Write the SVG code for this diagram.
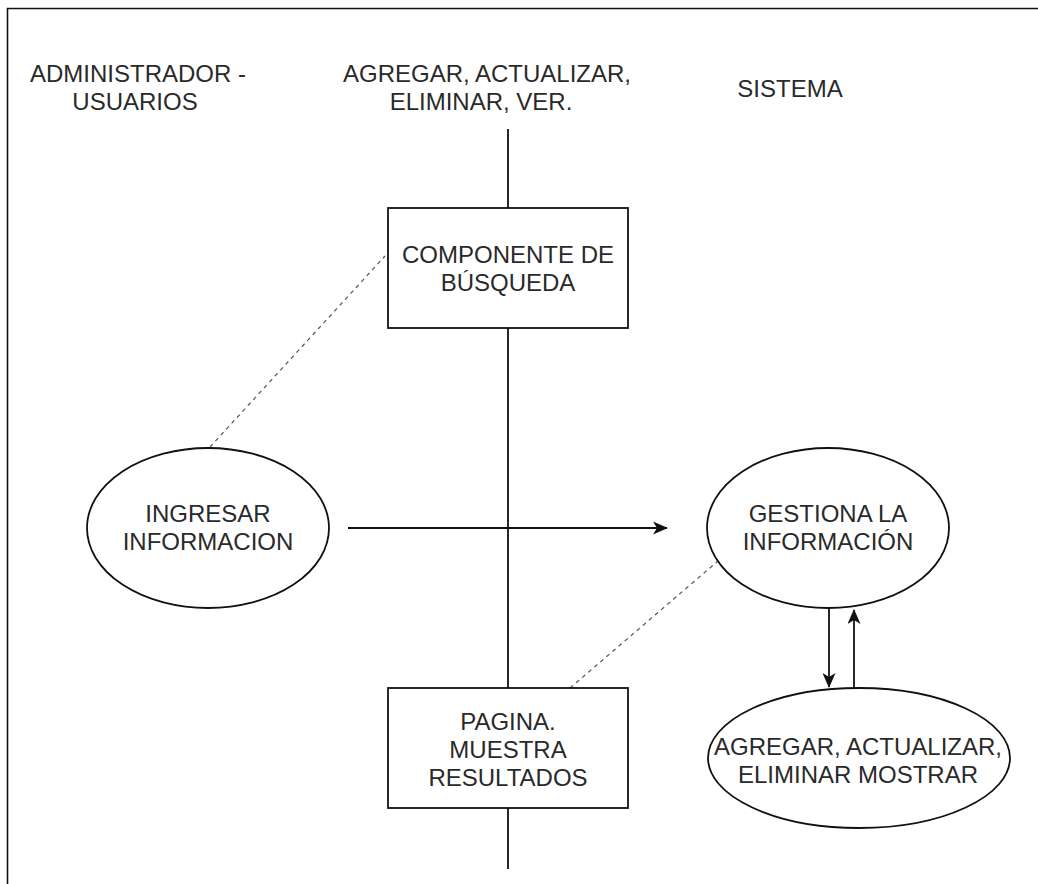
<svg xmlns="http://www.w3.org/2000/svg" width="1038" height="884" viewBox="0 0 1038 884">
  <defs>
    <style>
      .lbl { font-family: "Liberation Sans", Arial, sans-serif; font-size: 24px; fill: #2a2a2a; text-anchor: middle; }
      .shape { fill: #fff; stroke: #111; stroke-width: 1.8; }
      .line { fill: none; stroke: #111; stroke-width: 1.8; }
      .dash { fill: none; stroke: #555; stroke-width: 1.2; stroke-dasharray: 4 4; }
      .frame { fill: none; stroke: #111; stroke-width: 1.6; }
    </style>
    <marker id="arrow" markerUnits="userSpaceOnUse" viewBox="0 0 15 13" markerWidth="15" markerHeight="13" refX="14" refY="6.5" orient="auto">
      <path d="M0,0 L15,6.5 L0,13 L4,6.5 Z" fill="#111"/>
    </marker>
  </defs>
  <rect width="1038" height="884" fill="#fff"/>
  <g id="frame">
    <path class="frame" d="M7.5,884 L7.5,8.5 L1038,8.5"/>
  </g>
  <g id="lane-labels">
    <text class="lbl" x="138" y="82">ADMINISTRADOR -</text>
    <text class="lbl" x="135" y="110">USUARIOS</text>
    <text class="lbl" x="487" y="82">AGREGAR, ACTUALIZAR,</text>
    <text class="lbl" x="481" y="110">ELIMINAR, VER.</text>
    <text class="lbl" x="790" y="97">SISTEMA</text>
  </g>
  <g id="connectors">
    <line class="line" x1="508" y1="129" x2="508" y2="208"/>
    <line class="line" x1="508" y1="328" x2="508" y2="688"/>
    <line class="line" x1="508" y1="808" x2="508" y2="869"/>
    <line class="dash" x1="210" y1="447" x2="385" y2="256"/>
    <line class="dash" x1="570" y1="688" x2="718" y2="561"/>
    <line class="line" x1="348" y1="528" x2="667" y2="528" marker-end="url(#arrow)"/>
    <line class="line" x1="829" y1="608" x2="829" y2="687" marker-end="url(#arrow)"/>
    <line class="line" x1="854" y1="688" x2="854" y2="610" marker-end="url(#arrow)"/>
  </g>
  <g id="componente-busqueda">
    <rect class="shape" x="388" y="208" width="240" height="120"/>
    <text class="lbl" x="508" y="263">COMPONENTE DE</text>
    <text class="lbl" x="508" y="291">BÚSQUEDA</text>
  </g>
  <g id="pagina-resultados">
    <rect class="shape" x="388" y="688" width="240" height="120"/>
    <text class="lbl" x="508" y="730">PAGINA.</text>
    <text class="lbl" x="508" y="758">MUESTRA</text>
    <text class="lbl" x="508" y="786">RESULTADOS</text>
  </g>
  <g id="ingresar-informacion">
    <ellipse class="shape" cx="208" cy="528" rx="121" ry="80"/>
    <text class="lbl" x="208" y="522">INGRESAR</text>
    <text class="lbl" x="208" y="550">INFORMACION</text>
  </g>
  <g id="gestiona-informacion">
    <ellipse class="shape" cx="828" cy="528" rx="121" ry="80"/>
    <text class="lbl" x="828" y="522">GESTIONA LA</text>
    <text class="lbl" x="828" y="550">INFORMACIÓN</text>
  </g>
  <g id="agregar-mostrar">
    <ellipse class="shape" cx="859" cy="758" rx="151" ry="70"/>
    <text class="lbl" x="858" y="755">AGREGAR, ACTUALIZAR,</text>
    <text class="lbl" x="858" y="783">ELIMINAR MOSTRAR</text>
  </g>
</svg>
